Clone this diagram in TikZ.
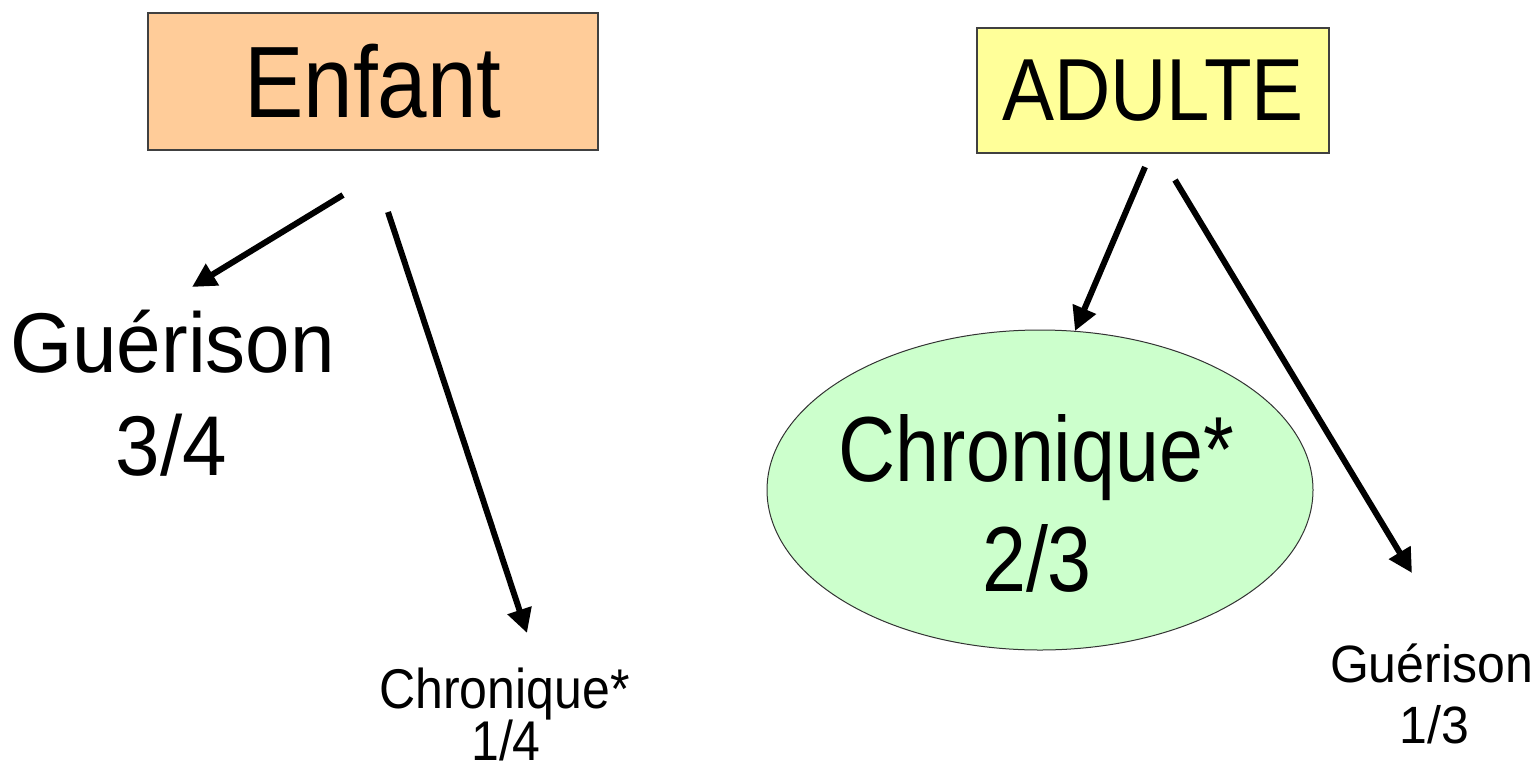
\documentclass[tikz,border=0pt]{standalone}
\usepackage{fontspec}
\setmainfont{Liberation Sans}
\usetikzlibrary{arrows.meta,shapes.geometric}
\definecolor{peach}{HTML}{FFCC99}
\definecolor{lyellow}{HTML}{FFFF99}
\definecolor{lgreen}{HTML}{CCFFCC}
\newcommand\stxt[3]{\scalebox{1}[#2]{\fontsize{#1}{#1}\selectfont #3}}
\begin{document}
\begin{tikzpicture}[x=1pt,y=-1pt,
  box/.style={draw=black!75,line width=1.3pt,inner sep=0pt},
  lbl/.style={anchor=base,inner sep=0pt},
  arr/.style={line width=6pt,-{Triangle[length=24pt,width=24pt]}}]
\useasboundingbox (0,0) rectangle (1539,774);
% category boxes
\node[box,fill=peach,minimum width=450pt,minimum height=137pt] (enfant) at (373,81.5) {\stxt{89}{1.14}{Enfant}};
\node[box,fill=lyellow,minimum width=352pt,minimum height=125pt] (adulte) at (1153,90.5) {\stxt{78}{1.13}{ADULTE}};
% ellipse
\node[ellipse,draw=black!80,line width=1pt,fill=lgreen,minimum width=546pt,minimum height=320pt,inner sep=0pt] (chronA) at (1040,490) {};
% outcome labels
\node[lbl] (guerE) at (172.5,372) {\stxt{80}{1.06}{Guérison}};
\node[lbl] (guerEn) at (171.5,475) {\stxt{80}{1.06}{3/4}};
\node[lbl] (chronE) at (504.5,708) {\stxt{50}{1.12}{Chronique*}};
\node[lbl] (chronEn) at (506,760) {\stxt{50}{1.12}{1/4}};
\node[lbl] (chronAt) at (1036.5,481) {\stxt{79}{1.17}{Chronique*}};
\node[lbl] (chronAn) at (1037,591) {\stxt{79}{1.17}{2/3}};
\node[lbl] (guerA) at (1431.5,682) {\stxt{50}{1.05}{Guérison}};
\node[lbl] (guerAn) at (1434.5,743) {\stxt{50}{1.05}{1/3}};
% arrow end points
\coordinate (e1s) at (343,195);
\coordinate (e1t) at (192,287);
\coordinate (e2s) at (388,212);
\coordinate (e2t) at (527,633);
\coordinate (a1s) at (1145,167);
\coordinate (a1t) at (1075,331);
\coordinate (a2s) at (1175,180);
\coordinate (a2t) at (1412,573);
\draw[arr] (e1s) -- (e1t);
\draw[arr] (e2s) -- (e2t);
\draw[arr] (a1s) -- (a1t);
\draw[arr] (a2s) -- (a2t);
\end{tikzpicture}
\end{document}
